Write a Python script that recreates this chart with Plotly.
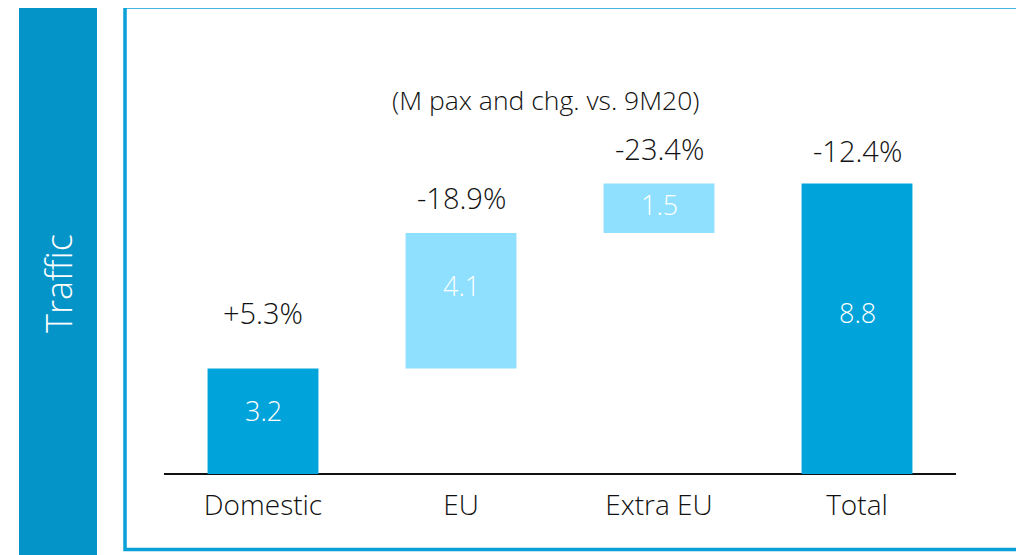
import plotly.graph_objects as go

categories = ["Domestic", "EU", "Extra EU", "Total"]
values = [3.2, 4.1, 1.5, 8.8]
changes = ["+5.3%", "-18.9%", "-23.4%", "-12.4%"]
is_total = [False, False, False, True]
subtitle = "(M pax and chg. vs. 9M20)"
side_title = "Traffic"

DARK = "#00A3DA"
LIGHT = "#8EE0FE"
FONT = "Open Sans"
TXT = "#111111"

# cumulative bases for waterfall
bases = []
run = 0.0
for v, t in zip(values, is_total):
    if t:
        bases.append(0.0)
    else:
        bases.append(run)
        run += v
tops = [b + v for b, v in zip(bases, values)]
colors = [DARK if (i == 0 or t) else LIGHT for i, t in enumerate(is_total)]

O = 8  # page body margin offset
W, H = 1024, 555
L, T = 164 - O, 45 - O
R = W - (956 - O)
B = H - (474 - O)
pw, ph = W - L - R, H - T - B

def px(X):
    return (X - O - L) / pw

def py(Y):
    return (H - B - (Y - O)) / ph

fig = go.Figure()
fig.add_trace(go.Bar(x=categories, y=values, base=bases, marker=dict(color=colors, line=dict(width=0)),
                     width=0.56, hoverinfo="skip"))

annotations = []
lbl_shift = [56, 36, 35, 33]
val_shift = [11, 15, 4, 16]
for i, c in enumerate(categories):
    annotations.append(dict(x=c, y=tops[i], xref="x", yref="y", text=changes[i], showarrow=False,
                            yanchor="middle", yshift=lbl_shift[i],
                            font=dict(family=FONT, size=29, color=TXT, weight=300)))
    annotations.append(dict(x=c, y=bases[i] + values[i] / 2, xref="x", yref="y", text=f"{values[i]:.1f}",
                            showarrow=False, yanchor="middle", yshift=val_shift[i],
                            font=dict(family=FONT, size=27, color="white", weight=300)))

annotations.append(dict(x=px(546), y=py(100), xref="paper", yref="paper", text=subtitle, showarrow=False,
                        xanchor="center", yanchor="middle",
                        font=dict(family=FONT, size=26.5, color=TXT, weight=300)))
annotations.append(dict(x=px(58), y=py(284), xref="paper", yref="paper", text=side_title, showarrow=False,
                        textangle=-90, xanchor="center", yanchor="middle",
                        font=dict(family=FONT, size=36, color="white", weight=300)))

shapes = [
    dict(type="rect", xref="paper", yref="paper", x0=px(19), x1=px(97), y0=py(570), y1=py(6),
         fillcolor="#0594C8", line=dict(width=0), layer="below"),
    dict(type="rect", xref="paper", yref="paper", x0=px(125), x1=px(1040), y0=py(549.5), y1=py(7),
         fillcolor="rgba(0,0,0,0)", line=dict(color="#0AA0D8", width=3.5), layer="below"),
]

fig.update_layout(
    width=W, height=H, margin=dict(l=L, r=R, t=T, b=B),
    paper_bgcolor="white", plot_bgcolor="white", showlegend=False,
    annotations=annotations, shapes=shapes,
    xaxis=dict(range=[-0.5, 3.5], showgrid=False, zeroline=False, showline=False, ticks="",
               ticklabelstandoff=12,
               tickfont=dict(family=FONT, size=28, color=TXT, weight=300)),
    yaxis=dict(range=[0, ph / 33.0], showgrid=False, zeroline=True, zerolinecolor=TXT, zerolinewidth=2,
               showticklabels=False, showline=False),
)
fig.write_html("out.html")
